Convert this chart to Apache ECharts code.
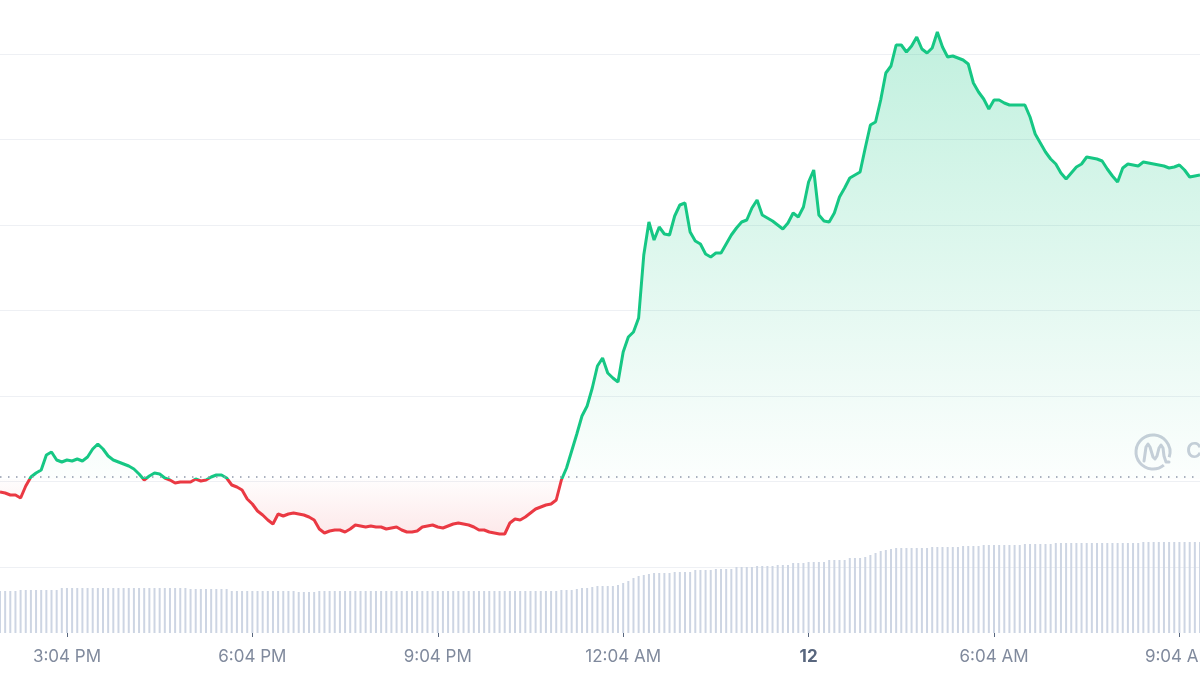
<!DOCTYPE html>
<html>
<head>
<meta charset="utf-8">
<script src="https://cdn.jsdelivr.net/npm/echarts@6/dist/echarts.min.js"></script>
<style>
html,body{margin:0;padding:0;background:#fff;}
#chart{width:1200px;height:675px;}
</style>
</head>
<body>
<div id="chart"></div>
<script>
// ---- data (5-minute samples) ----
const prices = [
1.075,1.074,1.072,1.072,1.069,1.081,1.090,1.094,1.097,1.112,
1.115,1.107,1.105,1.107,1.106,1.108,1.106,1.110,1.118,1.123,
1.118,1.111,1.107,1.105,1.103,1.101,1.098,1.093,1.087,1.091,
1.094,1.093,1.089,1.087,1.084,1.085,1.085,1.085,1.088,1.086,
1.087,1.090,1.092,1.092,1.089,1.082,1.080,1.077,1.068,1.063,
1.056,1.052,1.047,1.043,1.053,1.051,1.053,1.054,1.053,1.052,
1.050,1.047,1.038,1.034,1.036,1.037,1.037,1.035,1.038,1.042,
1.041,1.040,1.041,1.040,1.040,1.038,1.039,1.040,1.037,1.035,
1.035,1.036,1.040,1.041,1.042,1.040,1.039,1.041,1.043,1.044,
1.043,1.042,1.040,1.037,1.037,1.035,1.034,1.033,1.033,1.044,
1.048,1.047,1.050,1.054,1.058,1.060,1.062,1.063,1.067,1.087,
1.099,1.116,1.133,1.151,1.161,1.179,1.201,1.209,1.194,1.189,
1.185,1.215,1.230,1.235,1.249,1.312,1.345,1.327,1.340,1.333,
1.332,1.351,1.362,1.364,1.335,1.326,1.323,1.313,1.310,1.314,
1.314,1.323,1.332,1.339,1.345,1.347,1.359,1.367,1.352,1.349,
1.346,1.342,1.338,1.344,1.354,1.350,1.360,1.385,1.397,1.352,
1.346,1.345,1.354,1.370,1.379,1.389,1.392,1.395,1.419,1.442,
1.445,1.467,1.494,1.501,1.522,1.522,1.515,1.521,1.530,1.518,
1.514,1.519,1.535,1.520,1.510,1.511,1.509,1.507,1.503,1.484,
1.475,1.468,1.458,1.467,1.467,1.464,1.462,1.462,1.462,1.462,
1.450,1.433,1.424,1.415,1.408,1.403,1.394,1.388,1.394,1.400,
1.403,1.410,1.409,1.408,1.406,1.398,1.391,1.385,1.399,1.403,
1.402,1.401,1.405,1.404,1.403,1.402,1.401,1.399,1.400,1.402,
1.397,1.390,1.391,1.392
];
const volumes = [
42,42,42,42,43,43,43,43,43,43,
43,43,45,45,45,45,45,45,45,45,
45,45,45,45,45,45,45,45,45,45,
45,45,45,45,45,45,45,44,44,44,
44,44,44,44,44,42,42,42,42,42,
42,42,42,42,42,42,42,42,41,41,
41,41,42,42,42,42,42,42,42,42,
42,42,42,42,42,42,42,42,42,42,
42,42,42,42,42,42,42,42,42,42,
42,42,42,42,42,42,42,42,42,42,
42,42,42,42,42,42,42,42,42,43,
43,43,44,45,45,46,47,47,47,47,
48,50,52,55,57,58,59,60,60,60,
60,61,61,61,61,63,63,63,63,64,
64,64,64,66,66,66,66,67,67,67,
67,68,68,68,70,70,70,71,71,71,
71,73,73,73,73,75,75,75,76,78,
80,82,83,84,85,85,85,85,85,85,
85,86,86,86,86,86,86,87,87,87,
87,88,88,88,88,88,88,88,88,89,
89,89,89,89,89,90,90,90,90,90,
90,90,90,90,90,90,90,90,90,90,
90,90,91,91,91,91,91,91,91,91,
91,91,91,91
];
const openPrice = 1.088;
const tickLabels = ['3:04 PM','6:04 PM','9:04 PM','12:04 AM','12','6:04 AM','9:04 AM'];
const firstTickIndex = 13;   // 3:04 PM
const pointsPerTick = 36;    // 3 hours of 5-minute points
const startMinute = 13 * 60 + 59; // 1:59 PM

const categories = prices.map((_, i) => {
  const m = (startMinute + i * 5) % 1440;
  const h = Math.floor(m / 60), mm = m % 60;
  const h12 = h % 12 === 0 ? 12 : h % 12;
  return h12 + ':' + String(mm).padStart(2, '0') + (h < 12 ? ' AM' : ' PM');
});

const isTick = (idx) => idx >= firstTickIndex && (idx - firstTickIndex) % pointsPerTick === 0;

const GREEN = '#16c784', RED = '#ea3943';
const LOGO = '#c9cfda';
const GRID = '#eef0f4';
const VOL = '#cdd5e3';

const chart = echarts.init(document.getElementById('chart'), null, {renderer: 'canvas'});
chart.setOption({
  animation: false,
  backgroundColor: '#ffffff',
  textStyle: {fontFamily: 'Inter, "Noto Sans", sans-serif'},
  grid: [
    {left: 0, right: 0, top: 0, bottom: 108, outerBoundsMode: 'none', containLabel: false},
    {left: 0, right: 0, top: 533, bottom: 42, outerBoundsMode: 'none', containLabel: false}
  ],
  xAxis: [
    {type: 'category', gridIndex: 0, data: categories, boundaryGap: false,
     axisLine: {show: false}, axisTick: {show: false}, axisLabel: {show: false}, splitLine: {show: false}},
    {type: 'category', gridIndex: 1, data: categories, boundaryGap: false,
     axisLine: {show: false},
     axisTick: {show: true, interval: isTick, length: 4, lineStyle: {color: '#58667e', width: 1}},
     axisLabel: {show: true, interval: isTick, margin: 15, color: '#808a9d', fontSize: 17,
       fontFamily: 'Inter, sans-serif', hideOverlap: false,
       formatter: (v, idx) => {
         const t = tickLabels[(idx - firstTickIndex) / pointsPerTick];
         return t === '12' ? '{b|12}' : t;
       },
       rich: {b: {fontWeight: 'bold', color: '#58667e', fontSize: 17, fontFamily: 'Inter, sans-serif'}}
     },
     splitLine: {show: false}}
  ],
  yAxis: [
    {type: 'value', gridIndex: 0, min: 1.0, max: 1.567, interval: 0.0855,
     axisLine: {show: false}, axisTick: {show: false}, axisLabel: {show: false},
     splitLine: {show: true, lineStyle: {color: [GRID, GRID, GRID, GRID, GRID, GRID, GRID, 'rgba(0,0,0,0)'], width: 1}}},
    {type: 'value', gridIndex: 1, min: 0, max: 100,
     axisLine: {show: false}, axisTick: {show: false}, axisLabel: {show: false}, splitLine: {show: false}}
  ],
  series: [
    {
      type: 'line', xAxisIndex: 0, yAxisIndex: 0, data: prices,
      showSymbol: false, symbol: 'none', smooth: false, z: 3,
      lineStyle: {width: 3, color: GREEN},
      markLine: {
        silent: true, symbol: 'none', label: {show: false},
        lineStyle: {type: [1.5, 6.5], color: '#8f98ab', width: 1.5},
        data: [{yAxis: openPrice}]
      }
    },
    {
      type: 'custom', xAxisIndex: 1, yAxisIndex: 1, silent: true,
      data: volumes.map((v, i) => [i, v]),
      encode: {x: 0, y: 1},
      renderItem: (params, api) => {
        const top = api.coord([api.value(0), api.value(1)]);
        const base = api.coord([api.value(0), 0]);
        return {type: 'rect',
          shape: {x: top[0] - 1, y: top[1], width: 2, height: base[1] - top[1]},
          style: {fill: VOL}};
      }
    }
  ],
  graphic: [
    {type: 'arc', silent: true, shape: {cx: 1153, cy: 452, r: 17, startAngle: Math.PI * 0.28, endAngle: Math.PI * 2.1, clockwise: true},
     style: {stroke: LOGO, lineWidth: 3, fill: null}},
    {type: 'polyline', silent: true,
     shape: {points: [[1144, 461], [1146, 447], [1148, 444], [1150, 447], [1153, 457], [1155, 459], [1157, 456], [1159, 448], [1161, 445], [1163, 448], [1164, 456], [1166, 462], [1169, 462]]},
     style: {stroke: LOGO, lineWidth: 3, fill: null, lineCap: 'round', lineJoin: 'round'}},
    {type: 'text', silent: true, x: 1186, y: 440,
     style: {text: 'CoinMarketCap', fill: LOGO, font: '600 22px Inter, sans-serif'}}
  ]
});

// colour the line/area around the opening price using the axis scale
const baseY = chart.convertToPixel({yAxisIndex: 0}, openPrice);
const topY = chart.convertToPixel({yAxisIndex: 0}, Math.max.apply(null, prices));
const lowY = chart.convertToPixel({yAxisIndex: 0}, Math.min.apply(null, prices));
const H = 675;
const b = baseY / H;
const ab = (baseY - topY) / (lowY - topY);
chart.setOption({
  series: [{
    lineStyle: {
      color: new echarts.graphic.LinearGradient(0, 0, 0, H, [
        {offset: 0, color: GREEN}, {offset: b, color: GREEN},
        {offset: b, color: RED}, {offset: 1, color: RED}
      ], true)
    },
    areaStyle: {
      origin: openPrice,
      color: new echarts.graphic.LinearGradient(0, topY, 0, lowY, [
        {offset: 0, color: 'rgba(22,199,132,0.38)'},
        {offset: ab - 0.004, color: 'rgba(22,199,132,0.02)'},
        {offset: ab + 0.004, color: 'rgba(234,57,67,0.02)'},
        {offset: 1, color: 'rgba(234,57,67,0.16)'}
      ], true)
    }
  }]
});
</script>
</body>
</html>
